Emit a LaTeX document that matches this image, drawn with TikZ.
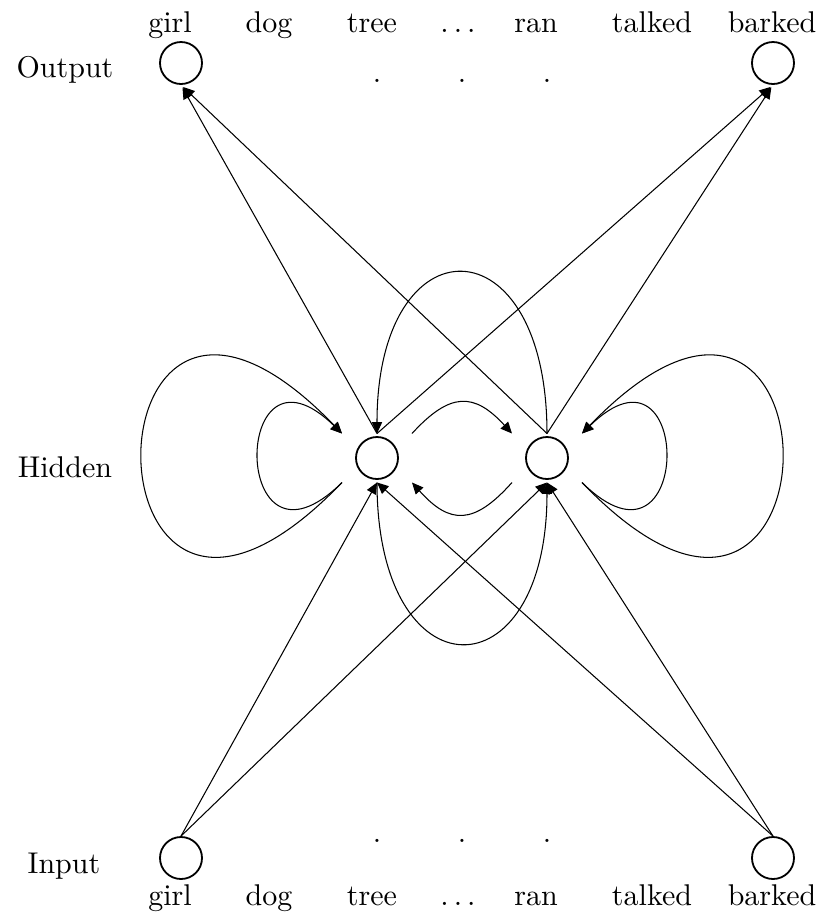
\documentclass[tikz,border=0pt]{standalone}
\usetikzlibrary{arrows.meta}
\begin{document}
\begin{tikzpicture}[x=0.3333pt,y=-0.3333pt,
  unit/.style={draw,circle,line width=0.6pt,minimum size=14pt,inner sep=0pt},
  port/.style={rectangle,minimum width=23.33pt,minimum height=16.33pt,inner sep=0pt,outer sep=0pt},
  word/.style={anchor=base,inner sep=0pt},
  edge/.style={line width=0.35pt},
  arr/.style={edge,-{Triangle[length=3.8pt,width=3.4pt]}}]
\useasboundingbox (0,0) rectangle (822,924);
% layer labels
\node[word] (lout) at (65,77) {Output};
\node[word] (lhid) at (65,477) {Hidden};
\node[word] (linp) at (64,873) {Input};
% top words
\node[word] (tw1) at (170,32) {girl};
\node[word] (tw2) at (269,32) {dog};
\node[word] (tw3) at (372,32) {tree};
\node[word] (tw4) at (458,32) {$\ldots$};
\node[word] (tw5) at (536,32) {ran};
\node[word] (tw6) at (652,32) {talked};
\node[word] (tw7) at (772,32) {barked};
% bottom words
\node[word] (bw1) at (170,905) {girl};
\node[word] (bw2) at (269,905) {dog};
\node[word] (bw3) at (372,905) {tree};
\node[word] (bw4) at (458,905) {$\ldots$};
\node[word] (bw5) at (536,905) {ran};
\node[word] (bw6) at (652,905) {talked};
\node[word] (bw7) at (772,905) {barked};
% dots
\node[word] (td1) at (377,82) {.};
\node[word] (td2) at (462,82) {.};
\node[word] (td3) at (547,82) {.};
\node[word] (bd1) at (377,842) {.};
\node[word] (bd2) at (462,842) {.};
\node[word] (bd3) at (547,842) {.};
% units
\node[unit] (ol) at (181,63) {};
\node[unit] (or) at (773,63) {};
\node[unit] (hl) at (377,458) {};
\node[unit] (hr) at (547,458) {};
\node[unit] (il) at (181,858) {};
\node[unit] (ir) at (773,858) {};
\node[port] (hlp) at (hl) {};
\node[port] (hrp) at (hr) {};
% hidden to output
\draw[arr,shorten >=1pt] (hlp.north) -- (ol.south);
\draw[arr,shorten >=1pt] (hrp.north) -- (ol.south);
\draw[arr,shorten >=1pt] (hlp.north) -- (or.south);
\draw[arr,shorten >=1pt] (hrp.north) -- (or.south);
% input to hidden
\draw[arr] (il.north) -- (hlp.south);
\draw[arr] (il.north) -- (hrp.south);
\draw[arr] (ir.north) -- (hlp.south);
\draw[arr] (ir.north) -- (hrp.south);
% arcs between hidden units
\draw[arr] (hrp.north) .. controls (547,219) and (377,219) .. (hlp.north);
\draw[arr] (hlp.south) .. controls (377,697) and (547,697) .. (hrp.south);
\draw[arr] (hlp.north east) .. controls (450,392) and (474,392) .. (hrp.north west);
\draw[arr] (hrp.south west) .. controls (474,525) and (450,525) .. (hlp.south east);
% self loops
\draw[arr] (hlp.south west) .. controls (230,593) and (230,324) .. (hlp.north west);
\draw[arr] (hlp.south west) .. controls (75,760) and (75,157) .. (hlp.north west);
\draw[arr] (hrp.south east) .. controls (694,593) and (694,324) .. (hrp.north east);
\draw[arr] (hrp.south east) .. controls (849,760) and (849,157) .. (hrp.north east);
\end{tikzpicture}
\end{document}
